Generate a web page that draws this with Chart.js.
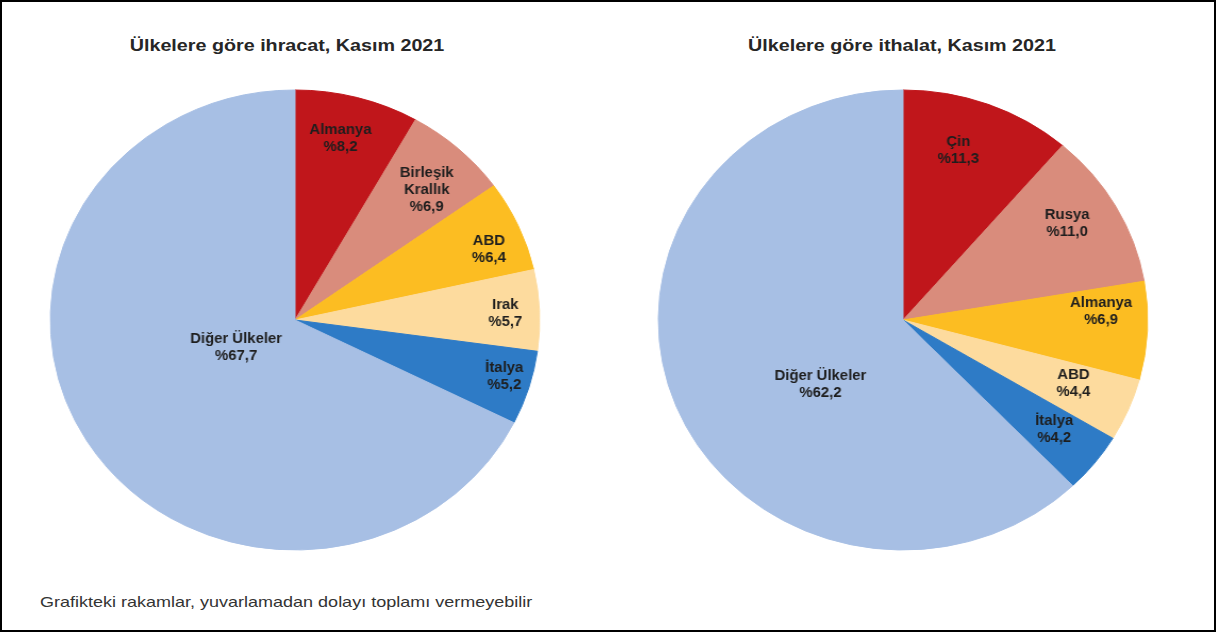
<!DOCTYPE html>
<html>
<head>
<meta charset="utf-8">
<script src="https://cdn.jsdelivr.net/npm/chart.js"></script>
<style>
  body { margin: 0; background: #fff; }
  #frame { position: relative; width: 1216px; height: 632px; box-sizing: border-box; border: 2px solid #000; background: #fff; overflow: hidden; }
  .title { position: absolute; top: 34px; width: 500px; text-align: center; font: bold 17px "Liberation Sans", Arial, sans-serif; color: #262626; transform: scaleX(1.16); }
  .note { position: absolute; left: 38px; top: 591px; font: 15px "Liberation Sans", Arial, sans-serif; color: #333; transform: scaleX(1.2); transform-origin: left center; }
  canvas { position: absolute; }
</style>
</head>
<body>
<div id="frame">
  <div class="title" style="left:35px">Ülkelere göre ihracat, Kasım 2021</div>
  <div class="title" style="left:650px">Ülkelere göre ithalat, Kasım 2021</div>
  <!-- canvases are drawn 470 wide and shown 500 wide: the source image is stretched sideways -->
  <canvas id="exportChart" width="470" height="470" style="left:43px; top:83px; width:500px; height:470px"></canvas>
  <canvas id="importChart" width="470" height="470" style="left:651px; top:83px; width:500px; height:470px"></canvas>
  <div class="note">Grafikteki rakamlar, yuvarlamadan dolayı toplamı vermeyebilir</div>
</div>
<script>
'use strict';

let exportCountries = ['Almanya', 'Birleşik Krallık', 'ABD', 'Irak', 'İtalya', 'Diğer Ülkeler'];
let exportShares = [8.2, 6.9, 6.4, 5.7, 5.2, 67.7];

let importCountries = ['Çin', 'Rusya', 'Almanya', 'ABD', 'İtalya', 'Diğer Ülkeler'];
let importShares = [11.3, 11.0, 6.9, 4.4, 4.2, 62.2];

let sliceColors = ['#c0161b', '#d98c7c', '#fcbd22', '#fddb9e', '#2e7bc6', '#a7bfe4'];

// how the label text is broken into lines
let exportLabelLines = [['Almanya'], ['Birleşik', 'Krallık'], ['ABD'], ['Irak'], ['İtalya'], ['Diğer Ülkeler']];
let importLabelLines = [['Çin'], ['Rusya'], ['Almanya'], ['ABD'], ['İtalya'], ['Diğer Ülkeler']];

function fmt(v) {
    return '%' + v.toFixed(1).replace('.', ',');
}

// draws the country + percent text inside each slice
// place[i] = [fraction of radius, fraction of the slice's angle]
let sliceLabels = {
    id: 'sliceLabels',
    afterDatasetsDraw(chart, args, opts) {
        let ctx = chart.ctx;
        let meta = chart.getDatasetMeta(0);
        let values = chart.data.datasets[0].data;
        ctx.save();
        ctx.font = 'bold 14px "Liberation Sans", Arial, sans-serif';
        ctx.fillStyle = '#1e1e1e';
        ctx.textAlign = 'center';
        ctx.textBaseline = 'middle';
        meta.data.forEach(function (arc, i) {
            let p = arc.getProps(['x', 'y', 'startAngle', 'endAngle', 'outerRadius'], true);
            let place = opts.place[i];
            let a = p.startAngle + (p.endAngle - p.startAngle) * place[1];
            let r = p.outerRadius * place[0];
            let cx = p.x + Math.cos(a) * r;
            let cy = p.y + Math.sin(a) * r;
            let lines = opts.lines[i].concat([fmt(values[i])]);
            let lh = 17;
            let y0 = cy - (lines.length - 1) * lh / 2;
            for (let j = 0; j < lines.length; j++) {
                ctx.fillText(lines[j], cx, y0 + j * lh);
            }
        });
        ctx.restore();
    }
};

function makePie(id, labels, values, lines, place) {
    let ctx = document.getElementById(id).getContext('2d');
    return new Chart(ctx, {
        type: 'pie',
        data: {
            labels: labels,
            datasets: [{
                data: values,
                backgroundColor: sliceColors,
                borderColor: sliceColors,
                borderWidth: 1
            }]
        },
        options: {
            responsive: false,
            animation: false,
            radius: 230,
            layout: { padding: 0 },
            plugins: {
                legend: { display: false },
                tooltip: { enabled: false },
                sliceLabels: { lines: lines, place: place }
            }
        },
        plugins: [sliceLabels]
    });
}

makePie('exportChart', exportCountries, exportShares, exportLabelLines,
    [[0.81, 0.45], [0.78, 0.57], [0.85, 0.63], [0.86, 0.53], [0.89, 0.44], [0.27, 0.52]]);
makePie('importChart', importCountries, importShares, importLabelLines,
    [[0.77, 0.42], [0.79, 0.44], [0.81, 0.29], [0.75, 0.42], [0.78, 0.44], [0.44, 0.42]]);
</script>
</body>
</html>
